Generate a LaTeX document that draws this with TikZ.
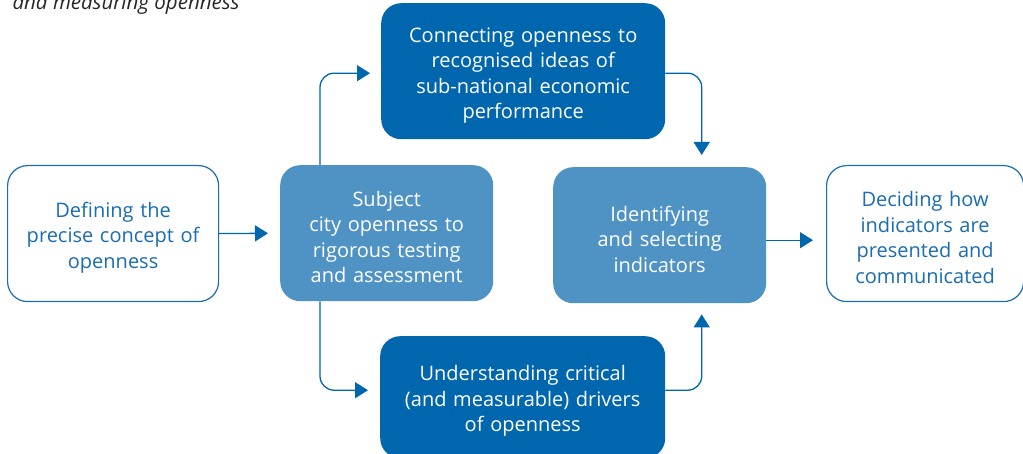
\documentclass[tikz,border=0pt]{standalone}
\usepackage{fontspec}
\setmainfont{Open Sans}
\usetikzlibrary{arrows.meta,calc}
\definecolor{dblue}{HTML}{0066AD}
\definecolor{lblue}{HTML}{4F93C5}
\definecolor{oblue}{HTML}{1A6DB0}
\tikzset{
  box/.style={rounded corners=20pt, minimum height=136pt, align=center, inner sep=0pt,
    font=\fontsize{20}{25.5}\selectfont, anchor=north west,
    execute at begin node={\rule{0pt}{23pt}}},
  outl/.style={box, draw=oblue, line width=1.2pt, fill=white, text=oblue},
  light/.style={box, fill=lblue, text=white},
  dark/.style={box, fill=dblue, text=white},
  arr/.style={draw=dblue, line width=1.3pt, -{Triangle[length=13pt,width=16pt]}, rounded corners=14pt}
}
\begin{document}
\begin{tikzpicture}[x=1pt,y=-1pt]
\useasboundingbox (0,0) rectangle (1023,454);
\node[anchor=base west, font=\fontsize{20.5}{22}\selectfont\itshape, text=black!85] (title) at (9,10) {and measuring openness};
\node[outl, minimum width=211pt, text width=205pt] (A) at (7,165) {Defining the\\precise concept of\\openness};
\node[light, minimum width=213pt, text width=205pt] (B) at (280,165) {Subject\\city openness to\\rigorous testing\\and assessment};
\node[dark, minimum width=284pt, text width=275pt] (C) at (381,3) {Connecting openness to\\recognised ideas of\\sub-national economic\\performance};
\node[light, minimum width=213pt, text width=205pt] (D) at (553,167) {Identifying\\and selecting\\indicators};
\node[outl, minimum width=197pt, text width=192pt] (E) at (826,165) {Deciding how\\indicators are\\presented and\\communicated};
\node[dark, minimum width=285pt, minimum height=122pt, text width=275pt] (F) at (380,336) {Understanding critical\\(and measurable) drivers\\of openness};
\draw[arr, shorten >=12pt] (A.east) -- (B.west);
\draw[arr, shorten >=13pt] ([yshift=-5pt]D.east) -- ([yshift=-5pt]D.east -| E.west);
\draw[arr, shorten >=11pt] ([xshift=40pt]B.north west) |- ([yshift=-2pt]C.west);
\draw[arr, shorten >=12pt] ([yshift=-2pt]C.east) -| ([xshift=42pt]D.north);
\draw[arr, shorten >=12pt] ([xshift=40pt]B.south west) |- ([yshift=7pt]F.west);
\draw[arr, shorten >=11pt] ([yshift=7pt]F.east) -| ([xshift=42pt]D.south);
\end{tikzpicture}
\end{document}
